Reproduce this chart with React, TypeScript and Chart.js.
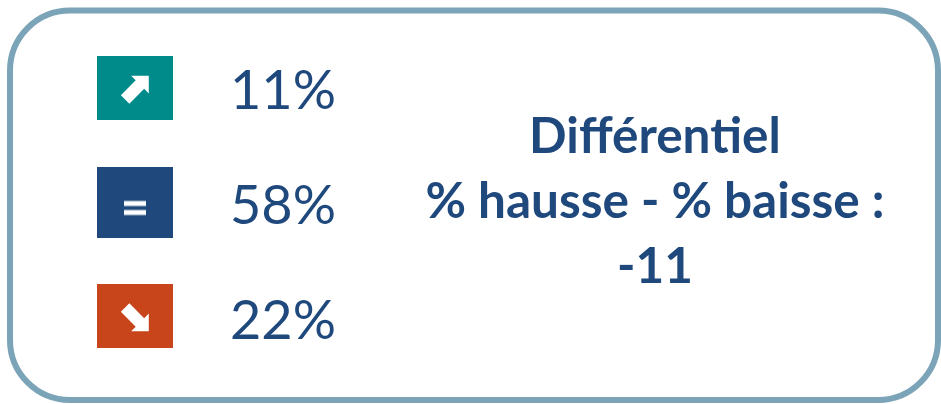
import React, { useEffect, useRef } from "react";
import { Chart, registerables } from "chart.js";

Chart.register(...registerables);

// ---- data ----
const categories = ["hausse", "stable", "baisse"];
const values = [11, 58, 22];
const iconKinds = ["up", "equal", "down"];
const titleLines = ["Différentiel", "% hausse - % baisse :"];

// ---- styles ----
const boxColors = ["#008B8B", "#1F497D", "#C8441A"];
const boxHeights = [64, 71, 64];
const BOX_W = 76;
const TEXT_BLUE = "#1F497D";
const BORDER = "#7BA4B9";
const FONT = "Lato, 'Open Sans', sans-serif";

function makeIcon(kind: string, color: string, w: number, h: number) {
  const c = document.createElement("canvas");
  c.width = w;
  c.height = h;
  const ctx = c.getContext("2d")!;
  ctx.fillStyle = color;
  ctx.fillRect(0, 0, w, h);
  ctx.fillStyle = "#FFFFFF";
  const cx = w / 2;
  const cy = h / 2;
  if (kind === "equal") {
    ctx.fillRect(cx - 11, cy - 1, 22, 5);
    ctx.fillRect(cx - 11, cy + 8, 22, 5);
  } else {
    ctx.save();
    ctx.translate(cx, cy + 1.5);
    ctx.rotate(kind === "up" ? -Math.PI / 4 : Math.PI / 4);
    ctx.beginPath();
    ctx.moveTo(-14, -6);
    ctx.lineTo(7, -6);
    ctx.lineTo(7, -12.5);
    ctx.lineTo(19.5, 0);
    ctx.lineTo(7, 12.5);
    ctx.lineTo(7, 6);
    ctx.lineTo(-14, 6);
    ctx.closePath();
    ctx.fill();
    ctx.restore();
  }
  return c;
}

const decorPlugin = {
  id: "decor",
  beforeDraw(chart: any) {
    const ctx = chart.ctx;
    ctx.save();
    ctx.fillStyle = "#FFFFFF";
    ctx.fillRect(0, 0, chart.width, chart.height);
    ctx.strokeStyle = BORDER;
    ctx.lineWidth = 6;
    ctx.beginPath();
    (ctx as any).roundRect(10, 10.5, 928, 389.5, 60);
    ctx.stroke();
    ctx.restore();
  },
  afterDatasetsDraw(chart: any) {
    const ctx = chart.ctx;
    const xs = chart.scales.x;
    const ys = chart.scales.y;
    ctx.save();
    ctx.fillStyle = TEXT_BLUE;
    ctx.textBaseline = "alphabetic";
    ctx.textAlign = "left";
    ctx.font = `54px ${FONT}`;
    const x0 = xs.getPixelForValue(0) + 95;
    const midY = ys.getPixelForValue(1);
    values.forEach((v, i) => {
      ctx.fillText(`${v}%`, x0, midY + 21.5 + (i - 1) * 115);
    });
    const diff = values[0] - values[2];
    const lines = [...titleLines, `${diff}`];
    ctx.textAlign = "center";
    ctx.font = `bold 49.5px ${FONT}`;
    const cx = chart.width * 0.696;
    lines.forEach((t, i) => {
      ctx.fillText(t, cx, midY + 16 + (i - 1) * 65);
    });
    ctx.restore();
  },
};

export default function App() {
  const ref = useRef<HTMLCanvasElement | null>(null);
  useEffect(() => {
    if (!ref.current) return;
    const icons = categories.map((_, i) =>
      makeIcon(iconKinds[i], boxColors[i], BOX_W, boxHeights[i])
    );
    const chart = new Chart(ref.current, {
      type: "scatter",
      data: {
        datasets: [
          {
            label: "Évolution",
            data: categories.map((c) => ({ x: 0, y: c })) as any,
            pointStyle: icons as any,
            pointRadius: 30,
            clip: false as any,
          },
        ],
      },
      options: {
        animation: false,
        responsive: false,
        layout: { padding: { left: 135, right: 100, top: 22, bottom: 26 } },
        plugins: { legend: { display: false }, tooltip: { enabled: false } },
        events: [],
        scales: {
          x: { type: "linear", min: 0, max: 1, display: false },
          y: { type: "category", labels: categories, offset: true, display: false },
        },
      },
      plugins: [decorPlugin],
    });
    let alive = true;
    if ((document as any).fonts) {
      Promise.all([
        (document as any).fonts.load(`54px Lato`),
        (document as any).fonts.load(`bold 49.5px Lato`),
      ]).then(() => {
        if (alive) chart.draw();
      });
    }
    return () => {
      alive = false;
      chart.destroy();
    };
  }, []);
  return (
    <div style={{ position: "absolute", left: 0, top: 0, width: 941, height: 404 }}>
      <canvas ref={ref} width={941} height={404} style={{ display: "block" }} />
    </div>
  );
}
